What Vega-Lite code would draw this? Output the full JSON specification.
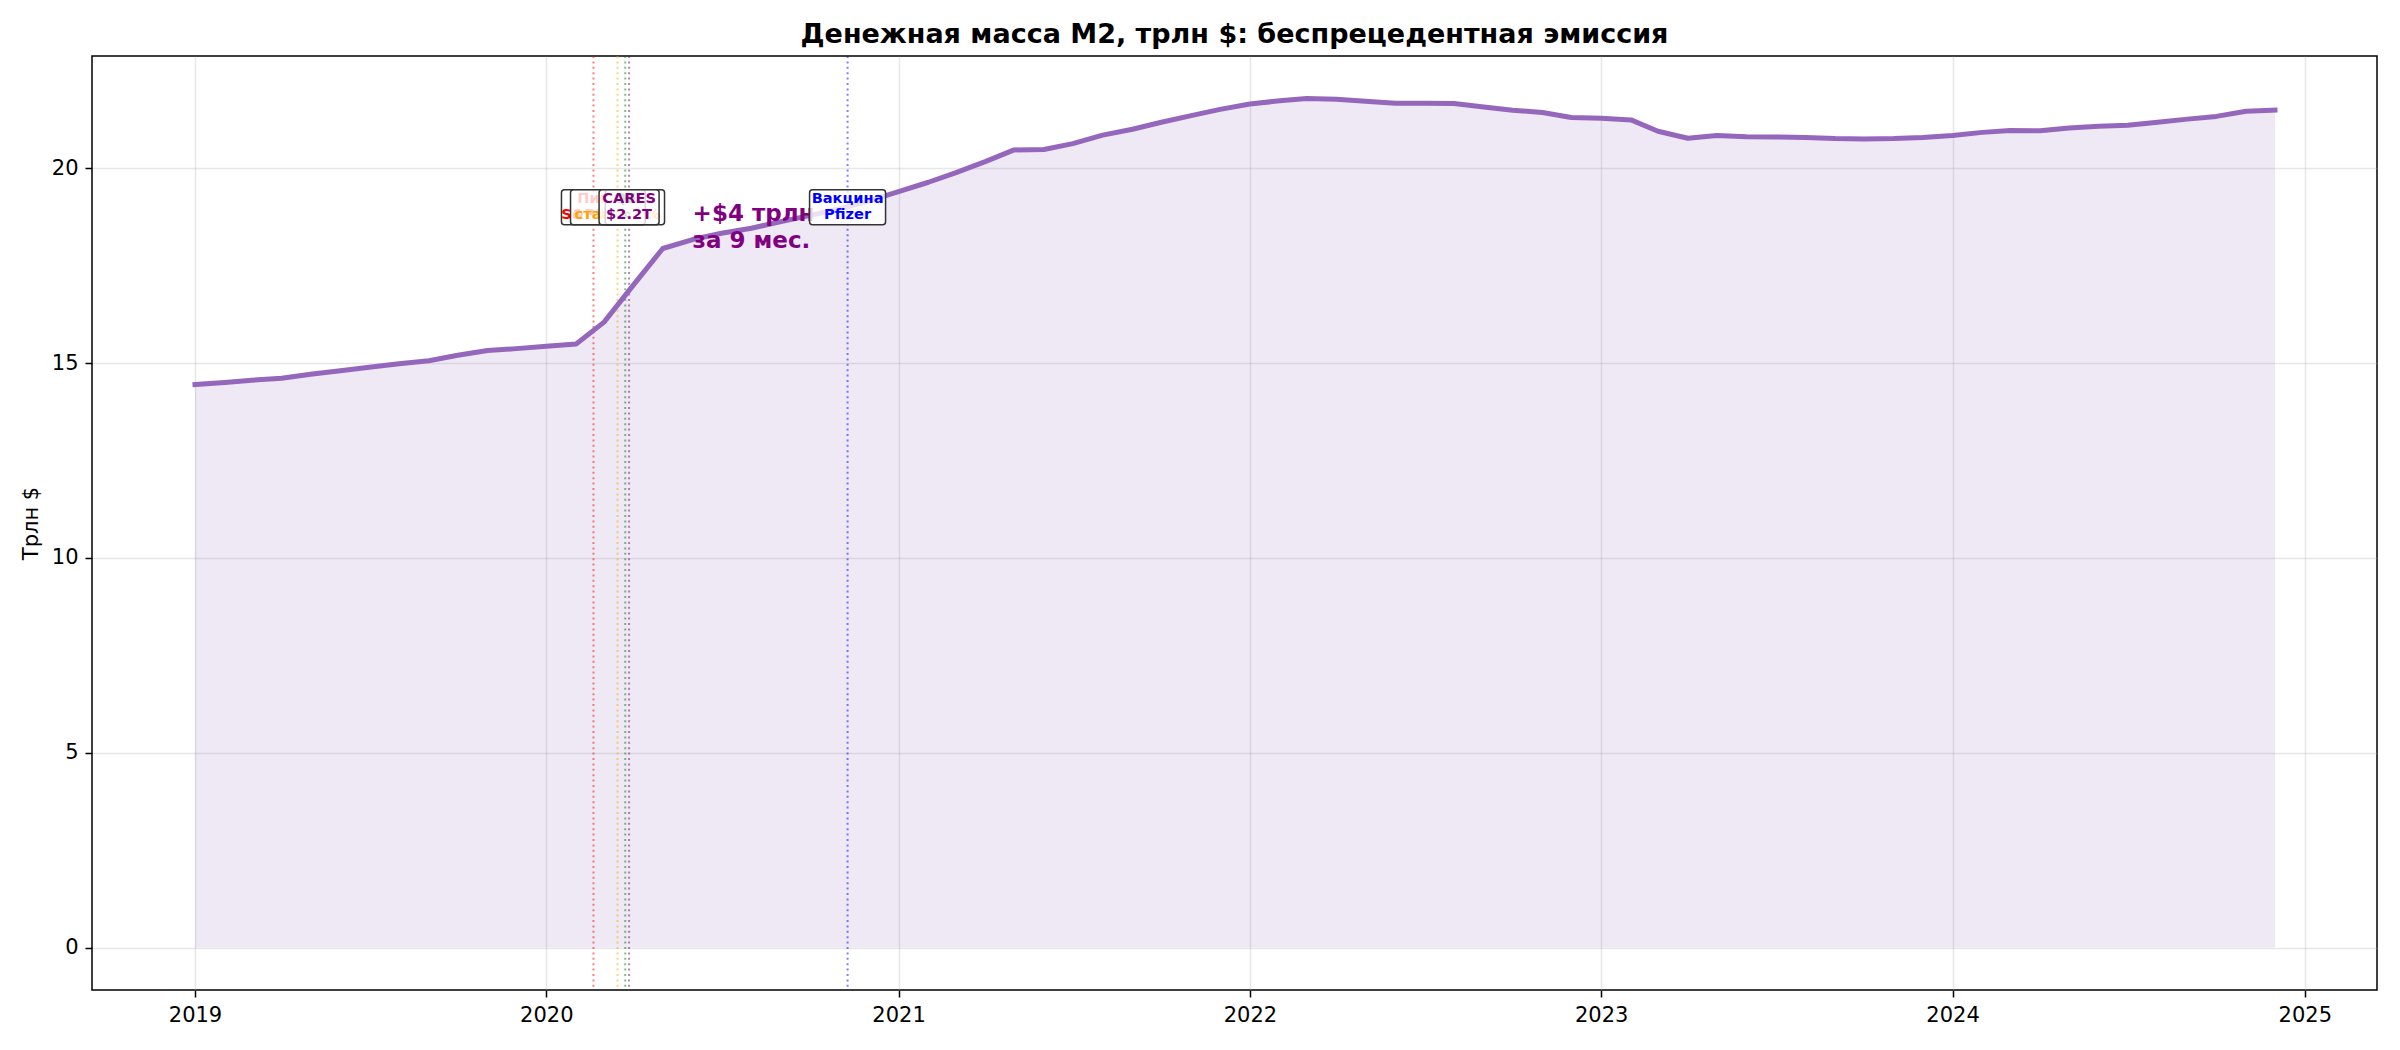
{
  "$schema": "https://vega.github.io/schema/vega-lite/v6.json",
  "width": 2285,
  "height": 934,
  "autosize": {"type": "none"},
  "padding": {"left": 92, "top": 56, "right": 23, "bottom": 60},
  "title": {
    "text": "Денежная масса M2, трлн $: беспрецедентная эмиссия",
    "font": "DejaVu Sans",
    "fontSize": 27,
    "fontWeight": "bold",
    "color": "black",
    "offset": 6
  },
  "config": {
    "font": "DejaVu Sans",
    "view": {"stroke": "black", "strokeWidth": 1.5},
    "axis": {
      "labelFont": "DejaVu Sans",
      "labelFontSize": 21,
      "labelColor": "black",
      "titleFont": "DejaVu Sans",
      "titleFontSize": 21,
      "titleFontWeight": "normal",
      "titleColor": "black",
      "tickColor": "black",
      "tickSize": 7,
      "tickWidth": 1.5,
      "domain": false,
      "gridColor": "#b0b0b0",
      "gridOpacity": 0.3,
      "gridWidth": 1.5,
      "labelPadding": 7
    },
    "text": {"lineBreak": "\n"}
  },
  "datasets": {
    "m2": [
      {"date": "2019-01-01", "m2": 14.45},
      {"date": "2019-02-01", "m2": 14.50},
      {"date": "2019-03-01", "m2": 14.56},
      {"date": "2019-04-01", "m2": 14.61},
      {"date": "2019-05-01", "m2": 14.71},
      {"date": "2019-06-01", "m2": 14.80},
      {"date": "2019-07-01", "m2": 14.89},
      {"date": "2019-08-01", "m2": 14.98},
      {"date": "2019-09-01", "m2": 15.06},
      {"date": "2019-10-01", "m2": 15.20},
      {"date": "2019-11-01", "m2": 15.32},
      {"date": "2019-12-01", "m2": 15.37},
      {"date": "2020-01-01", "m2": 15.43},
      {"date": "2020-02-01", "m2": 15.49},
      {"date": "2020-03-01", "m2": 16.05},
      {"date": "2020-04-01", "m2": 17.02},
      {"date": "2020-05-01", "m2": 17.94},
      {"date": "2020-06-01", "m2": 18.17},
      {"date": "2020-07-01", "m2": 18.33},
      {"date": "2020-08-01", "m2": 18.46},
      {"date": "2020-09-01", "m2": 18.63},
      {"date": "2020-10-01", "m2": 18.79},
      {"date": "2020-11-01", "m2": 18.96},
      {"date": "2020-12-01", "m2": 19.16},
      {"date": "2021-01-01", "m2": 19.40},
      {"date": "2021-02-01", "m2": 19.64},
      {"date": "2021-03-01", "m2": 19.88},
      {"date": "2021-04-01", "m2": 20.17},
      {"date": "2021-05-01", "m2": 20.47},
      {"date": "2021-06-01", "m2": 20.48},
      {"date": "2021-07-01", "m2": 20.63},
      {"date": "2021-08-01", "m2": 20.85},
      {"date": "2021-09-01", "m2": 21.00},
      {"date": "2021-10-01", "m2": 21.18},
      {"date": "2021-11-01", "m2": 21.35},
      {"date": "2021-12-01", "m2": 21.51},
      {"date": "2022-01-01", "m2": 21.65},
      {"date": "2022-02-01", "m2": 21.73},
      {"date": "2022-03-01", "m2": 21.79},
      {"date": "2022-04-01", "m2": 21.77},
      {"date": "2022-05-01", "m2": 21.72},
      {"date": "2022-06-01", "m2": 21.67},
      {"date": "2022-07-01", "m2": 21.67},
      {"date": "2022-08-01", "m2": 21.66},
      {"date": "2022-09-01", "m2": 21.57},
      {"date": "2022-10-01", "m2": 21.49},
      {"date": "2022-11-01", "m2": 21.43},
      {"date": "2022-12-01", "m2": 21.30},
      {"date": "2023-01-01", "m2": 21.28},
      {"date": "2023-02-01", "m2": 21.24},
      {"date": "2023-03-01", "m2": 20.95},
      {"date": "2023-04-01", "m2": 20.77},
      {"date": "2023-05-01", "m2": 20.84},
      {"date": "2023-06-01", "m2": 20.81},
      {"date": "2023-07-01", "m2": 20.80},
      {"date": "2023-08-01", "m2": 20.79},
      {"date": "2023-09-01", "m2": 20.76},
      {"date": "2023-10-01", "m2": 20.75},
      {"date": "2023-11-01", "m2": 20.76},
      {"date": "2023-12-01", "m2": 20.79},
      {"date": "2024-01-01", "m2": 20.84},
      {"date": "2024-02-01", "m2": 20.92},
      {"date": "2024-03-01", "m2": 20.97},
      {"date": "2024-04-01", "m2": 20.96},
      {"date": "2024-05-01", "m2": 21.03},
      {"date": "2024-06-01", "m2": 21.08},
      {"date": "2024-07-01", "m2": 21.10},
      {"date": "2024-08-01", "m2": 21.18},
      {"date": "2024-09-01", "m2": 21.26},
      {"date": "2024-10-01", "m2": 21.33},
      {"date": "2024-11-01", "m2": 21.46},
      {"date": "2024-12-01", "m2": 21.49}
    ],
    "events": [
      {"event": "sp500", "date": "2020-02-19", "label": "Пик\nS&P500"},
      {"event": "fed", "date": "2020-03-15", "label": "ФРС\nставка 0%"},
      {"event": "qe", "date": "2020-03-23", "label": "QE\n∞"},
      {"event": "cares", "date": "2020-03-27", "label": "CARES\n$2.2T"},
      {"event": "vaccine", "date": "2020-11-09", "label": "Вакцина\nPfizer"}
    ]
  },
  "layer": [
    {
      "data": {"name": "m2"},
      "mark": {"type": "area", "color": "#9467bd", "opacity": 0.15},
      "encoding": {
        "x": {
          "field": "date",
          "type": "temporal",
          "scale": {
            "domain": [
              {"year": 2018, "month": 9, "date": 16},
              {"year": 2025, "month": 3, "date": 17}
            ],
            "nice": false
          },
          "axis": {
            "title": null,
            "format": "%Y",
            "tickCount": {"interval": "year", "step": 1},
            "labelFlush": false,
            "labelOverlap": false
          }
        },
        "y": {
          "field": "m2",
          "type": "quantitative",
          "scale": {"domain": [-1.09, 22.88], "nice": false, "zero": false},
          "axis": {
            "title": "Трлн $",
            "values": [0, 5, 10, 15, 20],
            "titleAngle": 270,
            "titleAlign": "center",
            "titleBaseline": "middle",
            "titleX": -61,
            "titleY": 467
          }
        },
        "y2": {"datum": 0}
      }
    },
    {
      "data": {"name": "events"},
      "mark": {"type": "rule", "strokeWidth": 2, "strokeDash": [2, 3.4], "opacity": 0.5},
      "encoding": {
        "x": {"field": "date", "type": "temporal"},
        "color": {
          "field": "event",
          "type": "nominal",
          "scale": {
            "domain": ["sp500", "fed", "qe", "cares", "vaccine"],
            "range": ["red", "orange", "green", "purple", "blue"]
          },
          "legend": null
        }
      }
    },
    {
      "data": {"name": "m2"},
      "mark": {"type": "line", "color": "#9467bd", "strokeWidth": 5, "strokeCap": "square", "strokeJoin": "round"},
      "encoding": {
        "x": {"field": "date", "type": "temporal"},
        "y": {"field": "m2", "type": "quantitative"}
      }
    },
    {
      "data": {"values": [{}]},
      "mark": {
        "type": "text",
        "text": "+$4 трлн\nза 9 мес.",
        "align": "left",
        "baseline": "middle",
        "dy": -13,
        "font": "DejaVu Sans",
        "fontSize": 23,
        "fontWeight": "bold",
        "lineHeight": 27,
        "color": "purple"
      },
      "encoding": {
        "x": {"datum": {"year": 2020, "month": 6, "date": 1}, "type": "temporal"},
        "y": {"datum": 18.5}
      }
    },
    {
      "data": {"name": "events"},
      "transform": [{"filter": "datum.event === 'sp500'"}],
      "encoding": {
        "x": {"field": "date", "type": "temporal"},
        "y": {"datum": 19}
      },
      "layer": [
        {"mark": {"type": "rect", "width": 64, "height": 35, "fill": "white", "fillOpacity": 0.8, "stroke": "#333333", "strokeWidth": 1.5, "cornerRadius": 3}},
        {"mark": {"type": "text", "color": "red", "font": "DejaVu Sans", "fontSize": 14.6, "fontWeight": "bold", "lineHeight": 16, "baseline": "middle", "dy": -8}, "encoding": {"text": {"field": "label"}}}
      ]
    },
    {
      "data": {"name": "events"},
      "transform": [{"filter": "datum.event === 'fed'"}],
      "encoding": {
        "x": {"field": "date", "type": "temporal"},
        "y": {"datum": 19}
      },
      "layer": [
        {"mark": {"type": "rect", "width": 94, "height": 35, "fill": "white", "fillOpacity": 0.8, "stroke": "#333333", "strokeWidth": 1.5, "cornerRadius": 3}},
        {"mark": {"type": "text", "color": "orange", "font": "DejaVu Sans", "fontSize": 14.6, "fontWeight": "bold", "lineHeight": 16, "baseline": "middle", "dy": -8}, "encoding": {"text": {"field": "label"}}}
      ]
    },
    {
      "data": {"name": "events"},
      "transform": [{"filter": "datum.event === 'qe'"}],
      "encoding": {
        "x": {"field": "date", "type": "temporal"},
        "y": {"datum": 19}
      },
      "layer": [
        {"mark": {"type": "rect", "width": 40, "height": 35, "fill": "white", "fillOpacity": 0.8, "stroke": "#333333", "strokeWidth": 1.5, "cornerRadius": 3}},
        {"mark": {"type": "text", "color": "green", "font": "DejaVu Sans", "fontSize": 14.6, "fontWeight": "bold", "lineHeight": 16, "baseline": "middle", "dy": -8}, "encoding": {"text": {"field": "label"}}}
      ]
    },
    {
      "data": {"name": "events"},
      "transform": [{"filter": "datum.event === 'cares'"}],
      "encoding": {
        "x": {"field": "date", "type": "temporal"},
        "y": {"datum": 19}
      },
      "layer": [
        {"mark": {"type": "rect", "width": 60, "height": 35, "fill": "white", "fillOpacity": 0.8, "stroke": "#333333", "strokeWidth": 1.5, "cornerRadius": 3}},
        {"mark": {"type": "text", "color": "purple", "font": "DejaVu Sans", "fontSize": 14.6, "fontWeight": "bold", "lineHeight": 16, "baseline": "middle", "dy": -8}, "encoding": {"text": {"field": "label"}}}
      ]
    },
    {
      "data": {"name": "events"},
      "transform": [{"filter": "datum.event === 'vaccine'"}],
      "encoding": {
        "x": {"field": "date", "type": "temporal"},
        "y": {"datum": 19}
      },
      "layer": [
        {"mark": {"type": "rect", "width": 76, "height": 35, "fill": "white", "fillOpacity": 0.8, "stroke": "#333333", "strokeWidth": 1.5, "cornerRadius": 3}},
        {"mark": {"type": "text", "color": "blue", "font": "DejaVu Sans", "fontSize": 14.6, "fontWeight": "bold", "lineHeight": 16, "baseline": "middle", "dy": -8}, "encoding": {"text": {"field": "label"}}}
      ]
    }
  ]
}
